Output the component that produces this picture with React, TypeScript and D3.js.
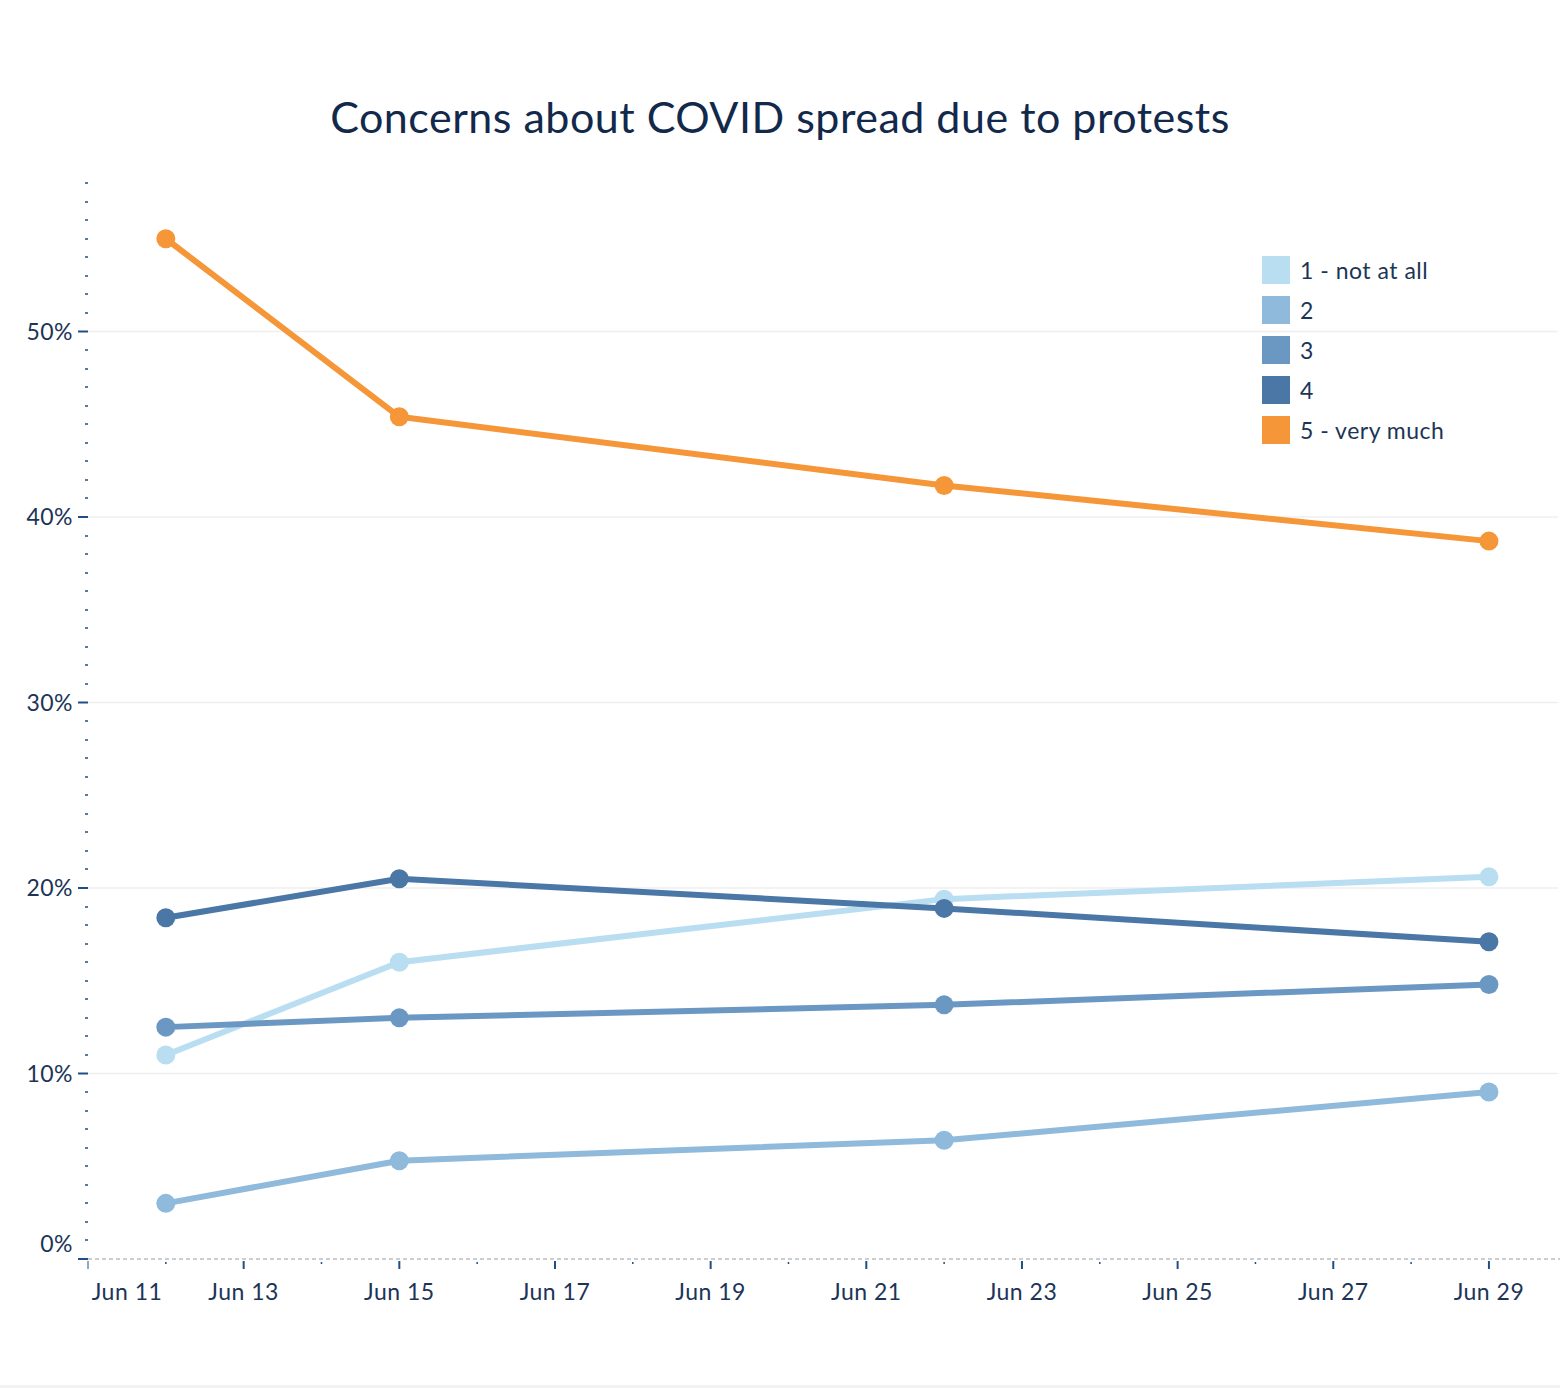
import { useEffect, useRef } from "react"
import * as d3 from "d3"

// * Survey dates (weekly waves)
const dates = ["2020-06-12", "2020-06-15", "2020-06-22", "2020-06-29"]

const seriesNames = ["1 - not at all", "2", "3", "4", "5 - very much"]
const seriesColors = ["#b9ddf1", "#8fbadb", "#6a98c3", "#4a77a6", "#f59639"]

// * Share of respondents (%) per answer, one array per series
const notAtAll = [11.0, 16.0, 19.4, 20.6]
const two = [3.0, 5.3, 6.4, 9.0]
const three = [12.5, 13.0, 13.7, 14.8]
const four = [18.4, 20.5, 18.9, 17.1]
const veryMuch = [55.0, 45.4, 41.7, 38.7]

const seriesValues = [notAtAll, two, three, four, veryMuch]

const yMajorTicks = [0, 10, 20, 30, 40, 50]
const xTickDays = [11, 13, 15, 17, 19, 21, 23, 25, 27, 29]

const WIDTH = 1560
const HEIGHT = 1388
const TEXT = "#1c3557"

export default function App() {
  const svgRef = useRef<SVGSVGElement>(null)

  useEffect(() => {
    if (!svgRef.current) return
    const svg = d3.select(svgRef.current)
    svg.selectAll("*").remove()
    svg.attr("width", WIDTH).attr("height", HEIGHT)

    const font = "Lato, 'Open Sans', sans-serif"
    const parse = d3.timeParse("%Y-%m-%d")
    const day = (d: number) => new Date(2020, 5, d)

    const plotLeft = 88
    const plotRight = 1558
    const dayWidth = 77.83

    const x = d3
      .scaleTime()
      .domain([day(11), day(30)])
      .range([plotLeft, plotLeft + 19 * dayWidth])

    const y = d3.scaleLinear().domain([0, 58]).range([1259, 1259 - 58 * 18.55])

    // * Title
    svg
      .append("text")
      .attr("x", 780)
      .attr("y", 133)
      .attr("text-anchor", "middle")
      .attr("font-family", font)
      .attr("font-size", "43px")
      .attr("letter-spacing", "0.5px")
      .attr("fill", "#13294b")
      .text("Concerns about COVID spread due to protests")

    // * Gridlines
    svg
      .append("g")
      .selectAll("line")
      .data(yMajorTicks.filter((t) => t > 0))
      .join("line")
      .attr("x1", plotLeft)
      .attr("x2", plotRight)
      .attr("y1", (d) => y(d))
      .attr("y2", (d) => y(d))
      .attr("stroke", "#efefef")
      .attr("stroke-width", 1.5)

    // * Zero line (dashed)
    svg
      .append("line")
      .attr("x1", plotLeft)
      .attr("x2", WIDTH)
      .attr("y1", y(0))
      .attr("y2", y(0))
      .attr("stroke", "#bdbdbd")
      .attr("stroke-width", 1.5)
      .attr("stroke-dasharray", "4,3")

    // * Y axis ticks (minor every 1%)
    const minor = d3.range(1, 59).filter((t) => t % 10 !== 0)
    svg
      .append("g")
      .selectAll("line")
      .data(minor)
      .join("line")
      .attr("x1", 85)
      .attr("x2", 88)
      .attr("y1", (d) => Math.round(y(d)))
      .attr("y2", (d) => Math.round(y(d)))
      .attr("stroke", "#1f4e85")
      .attr("stroke-width", 1.5)

    svg
      .append("g")
      .selectAll("line")
      .data(yMajorTicks)
      .join("line")
      .attr("x1", 78)
      .attr("x2", 88)
      .attr("y1", (d) => y(d))
      .attr("y2", (d) => y(d))
      .attr("stroke", "#1f4e85")
      .attr("stroke-width", 2)

    svg
      .append("g")
      .selectAll("text")
      .data(yMajorTicks)
      .join("text")
      .attr("x", 73)
      .attr("y", (d) => (d === 0 ? y(d) - 15 : y(d)))
      .attr("dy", "0.35em")
      .attr("text-anchor", "end")
      .attr("font-family", font)
      .attr("font-size", "23px")
      .attr("letter-spacing", "0.5px")
      .attr("fill", TEXT)
      .text((d) => `${d}%`)

    // * X axis ticks
    const minorDays = d3.range(12, 30, 2)
    svg
      .append("g")
      .selectAll("line")
      .data(minorDays)
      .join("line")
      .attr("x1", (d) => x(day(d)))
      .attr("x2", (d) => x(day(d)))
      .attr("y1", 1262)
      .attr("y2", 1264)
      .attr("stroke", "#1f4e85")
      .attr("stroke-width", 1.5)

    svg
      .append("g")
      .selectAll("line")
      .data(xTickDays)
      .join("line")
      .attr("x1", (d) => x(day(d)))
      .attr("x2", (d) => x(day(d)))
      .attr("y1", 1261)
      .attr("y2", 1269)
      .attr("stroke", "#1f4e85")
      .attr("stroke-width", (d) => (d === 11 ? 1 : 2))

    svg
      .append("g")
      .selectAll("text")
      .data(xTickDays)
      .join("text")
      .attr("x", (d) => (d === 11 ? x(day(d)) + 39 : x(day(d))))
      .attr("y", 1300)
      .attr("text-anchor", "middle")
      .attr("font-family", font)
      .attr("font-size", "23px")
      .attr("letter-spacing", "0.5px")
      .attr("fill", TEXT)
      .text((d) => `Jun ${d}`)

    // * Lines and points
    const line = d3
      .line<number>()
      .x((_, i) => x(parse(dates[i])!))
      .y((d) => y(d))

    seriesValues.forEach((vals, s) => {
      const g = svg.append("g")
      g.append("path")
        .datum(vals)
        .attr("d", line)
        .attr("fill", "none")
        .attr("stroke", seriesColors[s])
        .attr("stroke-width", 6)
        .attr("stroke-linejoin", "round")

      g.selectAll("circle")
        .data(vals)
        .join("circle")
        .attr("cx", (_, i) => x(parse(dates[i])!))
        .attr("cy", (d) => y(d))
        .attr("r", 9.5)
        .attr("fill", seriesColors[s])
    })

    // * Legend
    const legend = svg.append("g").attr("transform", "translate(1262,256)")
    seriesNames.forEach((name, i) => {
      legend
        .append("rect")
        .attr("x", 0)
        .attr("y", i * 40)
        .attr("width", 28)
        .attr("height", 28)
        .attr("fill", seriesColors[i])
      legend
        .append("text")
        .attr("x", 38)
        .attr("y", i * 40 + 15)
        .attr("dy", "0.35em")
        .attr("font-family", font)
        .attr("font-size", "23px")
        .attr("letter-spacing", "0.5px")
        .attr("fill", TEXT)
        .text(name)
    })

    // * Bottom border strip
    svg
      .append("rect")
      .attr("x", 0)
      .attr("y", 1385)
      .attr("width", WIDTH)
      .attr("height", 3)
      .attr("fill", "#f2f2f2")
  }, [])

  return (
    <div style={{ position: "absolute", left: 0, top: 0 }}>
      <svg ref={svgRef} style={{ display: "block", background: "#fff" }}></svg>
    </div>
  )
}
